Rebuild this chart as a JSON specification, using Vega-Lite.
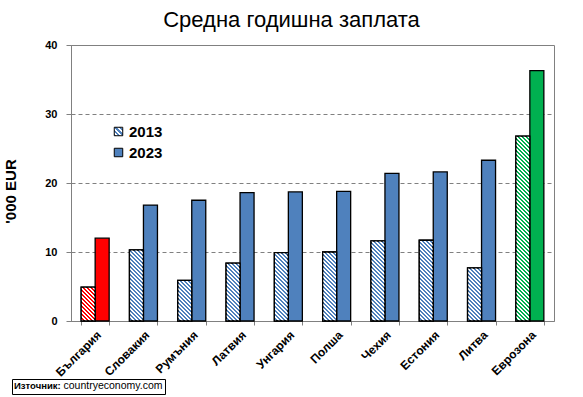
{
  "$schema": "https://vega.github.io/schema/vega-lite/v6.json",
  "width": 483,
  "height": 276,
  "autosize": "none",
  "padding": {"left": 71, "top": 45, "right": 29, "bottom": 76},
  "background": "white",
  "params": [
    {"name": "hatch", "value": [
      {"offset":0,"color":"#fff"},{"offset":0.01,"color":"#fff"},{"offset":0.01,"color":"#fff0"},{"offset":0.02,"color":"#fff0"},
      {"offset":0.02,"color":"#fff"},{"offset":0.03,"color":"#fff"},{"offset":0.03,"color":"#fff0"},{"offset":0.04,"color":"#fff0"},
      {"offset":0.04,"color":"#fff"},{"offset":0.05,"color":"#fff"},{"offset":0.05,"color":"#fff0"},{"offset":0.06,"color":"#fff0"},
      {"offset":0.06,"color":"#fff"},{"offset":0.07,"color":"#fff"},{"offset":0.07,"color":"#fff0"},{"offset":0.08,"color":"#fff0"},
      {"offset":0.08,"color":"#fff"},{"offset":0.09,"color":"#fff"},{"offset":0.09,"color":"#fff0"},{"offset":0.1,"color":"#fff0"},
      {"offset":0.1,"color":"#fff"},{"offset":0.11,"color":"#fff"},{"offset":0.11,"color":"#fff0"},{"offset":0.12,"color":"#fff0"},
      {"offset":0.12,"color":"#fff"},{"offset":0.13,"color":"#fff"},{"offset":0.13,"color":"#fff0"},{"offset":0.14,"color":"#fff0"},
      {"offset":0.14,"color":"#fff"},{"offset":0.15,"color":"#fff"},{"offset":0.15,"color":"#fff0"},{"offset":0.16,"color":"#fff0"},
      {"offset":0.16,"color":"#fff"},{"offset":0.17,"color":"#fff"},{"offset":0.17,"color":"#fff0"},{"offset":0.18,"color":"#fff0"},
      {"offset":0.18,"color":"#fff"},{"offset":0.19,"color":"#fff"},{"offset":0.19,"color":"#fff0"},{"offset":0.2,"color":"#fff0"},
      {"offset":0.2,"color":"#fff"},{"offset":0.21,"color":"#fff"},{"offset":0.21,"color":"#fff0"},{"offset":0.22,"color":"#fff0"},
      {"offset":0.22,"color":"#fff"},{"offset":0.23,"color":"#fff"},{"offset":0.23,"color":"#fff0"},{"offset":0.24,"color":"#fff0"},
      {"offset":0.24,"color":"#fff"},{"offset":0.25,"color":"#fff"},{"offset":0.25,"color":"#fff0"},{"offset":0.26,"color":"#fff0"},
      {"offset":0.26,"color":"#fff"},{"offset":0.27,"color":"#fff"},{"offset":0.27,"color":"#fff0"},{"offset":0.28,"color":"#fff0"},
      {"offset":0.28,"color":"#fff"},{"offset":0.29,"color":"#fff"},{"offset":0.29,"color":"#fff0"},{"offset":0.3,"color":"#fff0"},
      {"offset":0.3,"color":"#fff"},{"offset":0.31,"color":"#fff"},{"offset":0.31,"color":"#fff0"},{"offset":0.32,"color":"#fff0"},
      {"offset":0.32,"color":"#fff"},{"offset":0.33,"color":"#fff"},{"offset":0.33,"color":"#fff0"},{"offset":0.34,"color":"#fff0"},
      {"offset":0.34,"color":"#fff"},{"offset":0.35,"color":"#fff"},{"offset":0.35,"color":"#fff0"},{"offset":0.36,"color":"#fff0"},
      {"offset":0.36,"color":"#fff"},{"offset":0.37,"color":"#fff"},{"offset":0.37,"color":"#fff0"},{"offset":0.38,"color":"#fff0"},
      {"offset":0.38,"color":"#fff"},{"offset":0.39,"color":"#fff"},{"offset":0.39,"color":"#fff0"},{"offset":0.4,"color":"#fff0"},
      {"offset":0.4,"color":"#fff"},{"offset":0.41,"color":"#fff"},{"offset":0.41,"color":"#fff0"},{"offset":0.42,"color":"#fff0"},
      {"offset":0.42,"color":"#fff"},{"offset":0.43,"color":"#fff"},{"offset":0.43,"color":"#fff0"},{"offset":0.44,"color":"#fff0"},
      {"offset":0.44,"color":"#fff"},{"offset":0.45,"color":"#fff"},{"offset":0.45,"color":"#fff0"},{"offset":0.46,"color":"#fff0"},
      {"offset":0.46,"color":"#fff"},{"offset":0.47,"color":"#fff"},{"offset":0.47,"color":"#fff0"},{"offset":0.48,"color":"#fff0"},
      {"offset":0.48,"color":"#fff"},{"offset":0.49,"color":"#fff"},{"offset":0.49,"color":"#fff0"},{"offset":0.5,"color":"#fff0"},
      {"offset":0.5,"color":"#fff"},{"offset":0.51,"color":"#fff"},{"offset":0.51,"color":"#fff0"},{"offset":0.52,"color":"#fff0"},
      {"offset":0.52,"color":"#fff"},{"offset":0.53,"color":"#fff"},{"offset":0.53,"color":"#fff0"},{"offset":0.54,"color":"#fff0"},
      {"offset":0.54,"color":"#fff"},{"offset":0.55,"color":"#fff"},{"offset":0.55,"color":"#fff0"},{"offset":0.56,"color":"#fff0"},
      {"offset":0.56,"color":"#fff"},{"offset":0.57,"color":"#fff"},{"offset":0.57,"color":"#fff0"},{"offset":0.58,"color":"#fff0"},
      {"offset":0.58,"color":"#fff"},{"offset":0.59,"color":"#fff"},{"offset":0.59,"color":"#fff0"},{"offset":0.6,"color":"#fff0"},
      {"offset":0.6,"color":"#fff"},{"offset":0.61,"color":"#fff"},{"offset":0.61,"color":"#fff0"},{"offset":0.62,"color":"#fff0"},
      {"offset":0.62,"color":"#fff"},{"offset":0.63,"color":"#fff"},{"offset":0.63,"color":"#fff0"},{"offset":0.64,"color":"#fff0"},
      {"offset":0.64,"color":"#fff"},{"offset":0.65,"color":"#fff"},{"offset":0.65,"color":"#fff0"},{"offset":0.66,"color":"#fff0"},
      {"offset":0.66,"color":"#fff"},{"offset":0.67,"color":"#fff"},{"offset":0.67,"color":"#fff0"},{"offset":0.68,"color":"#fff0"},
      {"offset":0.68,"color":"#fff"},{"offset":0.69,"color":"#fff"},{"offset":0.69,"color":"#fff0"},{"offset":0.7,"color":"#fff0"},
      {"offset":0.7,"color":"#fff"},{"offset":0.71,"color":"#fff"},{"offset":0.71,"color":"#fff0"},{"offset":0.72,"color":"#fff0"},
      {"offset":0.72,"color":"#fff"},{"offset":0.73,"color":"#fff"},{"offset":0.73,"color":"#fff0"},{"offset":0.74,"color":"#fff0"},
      {"offset":0.74,"color":"#fff"},{"offset":0.75,"color":"#fff"},{"offset":0.75,"color":"#fff0"},{"offset":0.76,"color":"#fff0"},
      {"offset":0.76,"color":"#fff"},{"offset":0.77,"color":"#fff"},{"offset":0.77,"color":"#fff0"},{"offset":0.78,"color":"#fff0"},
      {"offset":0.78,"color":"#fff"},{"offset":0.79,"color":"#fff"},{"offset":0.79,"color":"#fff0"},{"offset":0.8,"color":"#fff0"},
      {"offset":0.8,"color":"#fff"},{"offset":0.81,"color":"#fff"},{"offset":0.81,"color":"#fff0"},{"offset":0.82,"color":"#fff0"},
      {"offset":0.82,"color":"#fff"},{"offset":0.83,"color":"#fff"},{"offset":0.83,"color":"#fff0"},{"offset":0.84,"color":"#fff0"},
      {"offset":0.84,"color":"#fff"},{"offset":0.85,"color":"#fff"},{"offset":0.85,"color":"#fff0"},{"offset":0.86,"color":"#fff0"},
      {"offset":0.86,"color":"#fff"},{"offset":0.87,"color":"#fff"},{"offset":0.87,"color":"#fff0"},{"offset":0.88,"color":"#fff0"},
      {"offset":0.88,"color":"#fff"},{"offset":0.89,"color":"#fff"},{"offset":0.89,"color":"#fff0"},{"offset":0.9,"color":"#fff0"},
      {"offset":0.9,"color":"#fff"},{"offset":0.91,"color":"#fff"},{"offset":0.91,"color":"#fff0"},{"offset":0.92,"color":"#fff0"},
      {"offset":0.92,"color":"#fff"},{"offset":0.93,"color":"#fff"},{"offset":0.93,"color":"#fff0"},{"offset":0.94,"color":"#fff0"},
      {"offset":0.94,"color":"#fff"},{"offset":0.95,"color":"#fff"},{"offset":0.95,"color":"#fff0"},{"offset":0.96,"color":"#fff0"},
      {"offset":0.96,"color":"#fff"},{"offset":0.97,"color":"#fff"},{"offset":0.97,"color":"#fff0"},{"offset":0.98,"color":"#fff0"},
      {"offset":0.98,"color":"#fff"},{"offset":0.99,"color":"#fff"},{"offset":0.99,"color":"#fff0"},{"offset":1,"color":"#fff0"}
    ]},
    {"name": "hatchLegend", "value": [
      {"offset":0,"color":"#4F81BD"},{"offset":0.125,"color":"#4F81BD"},{"offset":0.125,"color":"#fff"},{"offset":0.25,"color":"#fff"},
      {"offset":0.25,"color":"#4F81BD"},{"offset":0.375,"color":"#4F81BD"},{"offset":0.375,"color":"#fff"},{"offset":0.5,"color":"#fff"},
      {"offset":0.5,"color":"#4F81BD"},{"offset":0.625,"color":"#4F81BD"},{"offset":0.625,"color":"#fff"},{"offset":0.75,"color":"#fff"},
      {"offset":0.75,"color":"#4F81BD"},{"offset":0.875,"color":"#4F81BD"},{"offset":0.875,"color":"#fff"},{"offset":1,"color":"#fff"}
    ]}
  ],
  "title": {
    "text": "Средна годишна заплата",
    "font": "Liberation Sans",
    "fontSize": 22,
    "fontWeight": "normal",
    "color": "black",
    "anchor": "middle",
    "dx": -21,
    "offset": 7
  },
  "data": {"values": [
    {"country": "България", "year": "2013", "v": 4.9},
    {"country": "България", "year": "2023", "v": 12.0},
    {"country": "Словакия", "year": "2013", "v": 10.3},
    {"country": "Словакия", "year": "2023", "v": 16.8},
    {"country": "Румъния", "year": "2013", "v": 5.9},
    {"country": "Румъния", "year": "2023", "v": 17.5},
    {"country": "Латвия", "year": "2013", "v": 8.4},
    {"country": "Латвия", "year": "2023", "v": 18.6},
    {"country": "Унгария", "year": "2013", "v": 9.9},
    {"country": "Унгария", "year": "2023", "v": 18.7},
    {"country": "Полша", "year": "2013", "v": 10.0},
    {"country": "Полша", "year": "2023", "v": 18.8},
    {"country": "Чехия", "year": "2013", "v": 11.6},
    {"country": "Чехия", "year": "2023", "v": 21.4},
    {"country": "Естония", "year": "2013", "v": 11.7},
    {"country": "Естония", "year": "2023", "v": 21.6},
    {"country": "Литва", "year": "2013", "v": 7.7},
    {"country": "Литва", "year": "2023", "v": 23.3},
    {"country": "Еврозона", "year": "2013", "v": 26.8},
    {"country": "Еврозона", "year": "2023", "v": 36.3}
  ]},
  "encoding": {
    "x": {
      "field": "country", "type": "nominal", "sort": null,
      "scale": {"paddingInner": 0.42, "paddingOuter": 0.21},
      "axis": {
        "title": null, "labelAngle": -45, "labelFont": "Liberation Sans", "labelFontSize": 12,
        "labelFontWeight": "bold", "labelColor": "black", "labelPadding": 4,
        "domainColor": "#808080", "tickColor": "#808080", "tickSize": 4, "tickBand": "extent"
      }
    },
    "xOffset": {"field": "year", "type": "nominal", "scale": {"domain": ["2013", "2023"], "paddingInner": 0, "paddingOuter": 0}},
    "y": {
      "field": "v", "type": "quantitative", "stack": null,
      "scale": {"domain": [0, 40], "nice": false},
      "axis": {
        "title": "'000 EUR", "values": [0, 10, 20, 30, 40],
        "grid": true, "gridColor": "#808080", "gridDash": [4, 3], "gridWidth": 1,
        "domainColor": "#808080", "tickColor": "#808080", "tickSize": 5,
        "labelFont": "Liberation Sans", "labelFontSize": 11, "labelFontWeight": "bold", "labelColor": "black", "labelPadding": 9,
        "titleFont": "Liberation Sans", "titleFontSize": 15, "titleFontWeight": "bold", "titleColor": "black",
        "titleX": -53, "titleY": 146
      }
    }
  },
  "layer": [
    {
      "mark": {"type": "bar", "stroke": "black", "strokeWidth": 1.3},
      "encoding": {
        "color": {
          "condition": [
            {"test": "datum.country === 'България'", "value": "#FF0000"},
            {"test": "datum.country === 'Еврозона'", "value": "#00B050"},
            {"test": "datum.year === '2013'", "value": "#4F81BD"}
          ],
          "field": "year", "type": "nominal",
          "scale": {"domain": ["2013", "2023"], "range": [{"expr": "{gradient: 'linear', x1: 0, y1: 1, x2: 1, y2: 0, stops: hatchLegend}"}, "#4F81BD"]},
          "legend": {
            "title": null, "orient": "none", "legendX": 40, "legendY": 79, "padding": 0,
            "labelFont": "Liberation Sans", "labelFontSize": 15, "labelFontWeight": "bold", "labelColor": "black",
            "symbolType": "square", "symbolSize": 72, "symbolStrokeColor": "black", "symbolStrokeWidth": 1,
            "symbolOpacity": 1,
            "rowPadding": 5, "labelOffset": 3
          }
        }
      }
    },
    {
      "transform": [{"filter": "datum.year === '2013'"}],
      "mark": {
        "type": "bar", "stroke": "black", "strokeWidth": 1.3,
        "fill": {"expr": "{gradient: 'linear', x1: 0, y1: 1, x2: 200*bandwidth('xOffset')/(pow(bandwidth('xOffset'),2)+pow(scale('y',0)-scale('y',datum.v),2)), y2: 1-200*(scale('y',0)-scale('y',datum.v))/(pow(bandwidth('xOffset'),2)+pow(scale('y',0)-scale('y',datum.v),2)), stops: hatch}"}
      },
      "encoding": {
        "strokeDash": {
          "datum": "countryeconomy.com", "type": "nominal",
          "scale": {"range": [[1, 0]]},
          "legend": {
            "title": "  Източник:", "titleOrient": "left", "orient": "none", "legendX": -59, "legendY": 334,
            "titleFont": "Liberation Sans", "titleFontSize": 9.5, "titleFontWeight": "bold", "titleColor": "black", "titlePadding": 0,
            "labelFont": "Liberation Sans", "labelFontSize": 10.5, "labelColor": "black", "labelOffset": -8,
            "symbolSize": 0, "symbolOpacity": 0, "symbolStrokeWidth": 0,
            "strokeColor": "black", "fillColor": "white", "padding": 2
          }
        }
      }
    }
  ],
  "config": {
    "view": {"stroke": "#808080", "strokeWidth": 1},
    "font": "Liberation Sans"
  }
}
